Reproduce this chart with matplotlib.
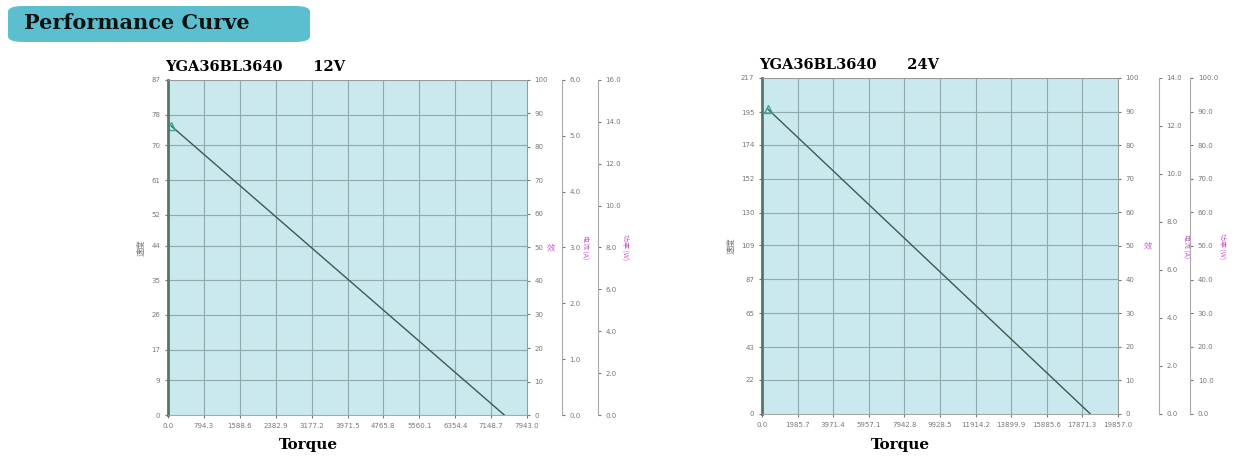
import matplotlib
matplotlib.use("Agg")
import matplotlib.pyplot as plt
from matplotlib.patches import FancyBboxPatch

# ---- 12V data ----
x12_ticks = [0.0, 794.3, 1588.6, 2382.9, 3177.2, 3971.5, 4765.8, 5560.1, 6354.4, 7148.7, 7943.0]
y12_ticks = [0, 9, 17, 26, 35, 44, 52, 61, 70, 78, 87]
speed12_t = [75, 7441]
speed12_v = [75, 0]
eff12_t = [0, 75, 262, 637, 1012, 1611, 2136, 2885, 3634, 4384, 5133, 5882, 6632, 7081, 7441]
eff12_v = [0, 16.5, 36, 58, 68, 72.7, 71.5, 67, 60, 50, 38, 26.5, 14.6, 6.6, 0]
pow12_t = [75, 637, 1386, 2136, 2885, 3709, 4757, 5508, 6257, 7006, 7441]
pow12_v = [0.75, 5.5, 10.3, 13.1, 14.5, 14.9, 13.9, 11.7, 8.2, 3.44, 0]
cur12_t = [75, 7441, 7441]
cur12_v = [0.4, 4.13, 0]

# ---- 24V data ----
x24_ticks = [0.0, 1985.7, 3971.4, 5957.1, 7942.8, 9928.5, 11914.2, 13899.9, 15885.6, 17871.3, 19857.0]
y24_ticks = [0, 22, 43, 65, 87, 109, 130, 152, 174, 195, 217]
speed24_t = [318, 18324]
speed24_v = [197, 0]
eff24_t = [20, 131, 318, 598, 972, 1720, 2842, 4151, 6021, 7890, 9760, 11630, 13500, 15369, 17239, 18324]
eff24_v = [0, 25.9, 42.7, 65.4, 79.2, 90.1, 93.9, 92.1, 85.2, 75.3, 63.4, 49.6, 36.8, 23.9, 10.1, 0]
pow24_t = [318, 2281, 4151, 6021, 7890, 9199, 10695, 12565, 14434, 16304, 17426, 18324]
pow24_v = [5.1, 35.8, 60.5, 80.2, 94.1, 98.2, 96.5, 87.2, 67.4, 41.7, 20.9, 0]
cur24_t = [318, 18324, 18324]
cur24_v = [0.69, 12.2, 0]

BG = "#c9e9ee"
GRID = "#8fa9ad"
SPEED_C = "#3d5a52"
POW_C = "#7d6b6b"
EFF_C = "#c44a5a"
CUR_C = "#4b68cf"
MK = "#3aa58a"
TK = "#777777"

fig = plt.figure(figsize=(12.4, 4.68), dpi=100)

box = FancyBboxPatch((8/1240, 1-42/468), 302/1240, 36/468,
                     boxstyle="round,pad=0,rounding_size=0.012",
                     transform=fig.transFigure, facecolor="#5cbfcf", edgecolor="none")
fig.patches.append(box)
fig.text(24/1240, 1-23/468, "Performance Curve", fontsize=15, fontweight="bold",
         family="DejaVu Serif", va="center", color="#111111")


def panel(rect, xt, yt, st, sv, et, ev, pt, pv, ct, cv, cmax, pmax, ptick_fmt,
          title, off1, off2, ctick_step, ptick_step):
    ax = fig.add_axes(rect)
    ax.set_facecolor(BG)
    ax.set_xlim(xt[0], xt[-1])
    ax.set_ylim(yt[0], yt[-1])
    ax.set_xticks(xt)
    ax.set_xticklabels([f"{v:.1f}" for v in xt])
    ax.set_yticks(yt)
    ax.grid(True, color=GRID, lw=0.8)
    ax.tick_params(labelsize=5, colors=TK, length=2)
    for s in ax.spines.values():
        s.set_color("#999999")
        s.set_linewidth(0.6)
    ax.spines["left"].set_color("#557766")
    ax.spines["left"].set_linewidth(2)
    ax.set_ylabel("速度", fontsize=6, color=TK, family=["Noto Sans CJK SC", "DejaVu Sans"])

    ax.plot(st, sv, color=SPEED_C, lw=1)
    ax.plot([st[0]], [sv[0]], marker="^", ms=6, mfc="none", mec=MK, mew=1)

    ae = ax.twinx()
    ae.set_ylim(0, 100)
    ae.set_yticks(range(0, 101, 10))
    ae.tick_params(labelsize=5, colors=TK, length=2)
    ae.plot(et, ev, color=EFF_C, lw=1.1)
    ae.plot(pt[:1], [pv[0] / pmax * 100], marker="^", ms=6, mfc="none", mec=MK, mew=1)
    ae.plot(et[1:2], ev[1:2], marker="^", ms=6, mfc="none", mec=MK, mew=1)
    for s in ae.spines.values():
        s.set_visible(False)
    ae.spines["right"].set_visible(True)
    ae.spines["right"].set_color("#aaaaaa")

    ac = ax.twinx()
    ac.spines["right"].set_position(("outward", off1))
    ac.set_ylim(0, cmax)
    ac.set_yticks([i * ctick_step for i in range(int(round(cmax / ctick_step)) + 1)])
    ac.set_yticklabels([f"{v:.1f}" for v in ac.get_yticks()])
    ac.tick_params(labelsize=5, colors=TK, length=2)
    for s in ["top", "left", "bottom"]:
        ac.spines[s].set_visible(False)
    ac.spines["right"].set_color("#aaaaaa")
    ac.plot(ct, cv, color=CUR_C, lw=1.1)
    ac.plot(ct[:1], cv[:1], marker="^", ms=6, mfc="none", mec=MK, mew=1)
    ac.set_ylabel("电流 (A)", fontsize=5, color="#d05ad0", rotation=-90, labelpad=6,
                  family=["Noto Sans CJK SC", "DejaVu Sans"])

    ap = ax.twinx()
    ap.spines["right"].set_position(("outward", off2))
    ap.set_ylim(0, pmax)
    ap.set_yticks([i * ptick_step for i in range(int(round(pmax / ptick_step)) + 1)])
    ap.set_yticklabels([f"{v:.1f}" for v in ap.get_yticks()])
    ap.tick_params(labelsize=5, colors=TK, length=2)
    for s in ["top", "left", "bottom"]:
        ap.spines[s].set_visible(False)
    ap.spines["right"].set_color("#aaaaaa")
    ap.plot(pt, pv, color=POW_C, lw=1)
    ap.set_ylabel("功率 (W)", fontsize=5, color="#d05ad0", rotation=-90, labelpad=6,
                  family=["Noto Sans CJK SC", "DejaVu Sans"])

    ax.text(rect[0] + 0 * rect[2], 0, "", transform=fig.transFigure)
    fig.text(rect[0] - 0.002, rect[1] + rect[3] + 0.012, title, fontsize=10.5,
             fontweight="bold", family="DejaVu Serif", ha="left", va="bottom")
    fig.text(rect[0] + rect[2] * 0.39, 0.04, "Torque", fontsize=11,
             fontweight="bold", family="DejaVu Serif", ha="center")
    fig.text(rect[0] + rect[2] + (off1 - 8) / 72 / 12.4, rect[1] + rect[3] * 0.5, "效",
             fontsize=6, color="#d05ad0", ha="center", va="center",
             family=["Noto Sans CJK SC", "DejaVu Sans"])
    ax.set_zorder(ae.get_zorder() + 3)
    ax.patch.set_visible(True)
    return ax


panel([0.1355, 0.1132, 0.2895, 0.716], x12_ticks, y12_ticks,
      speed12_t, speed12_v, eff12_t, eff12_v, pow12_t, pow12_v, cur12_t, cur12_v,
      6.0, 16.0, None, "YGA36BL3640      12V", 25, 51, 1.0, 2.0)
panel([0.6145, 0.1154, 0.287, 0.718], x24_ticks, y24_ticks,
      speed24_t, speed24_v, eff24_t, eff24_v, pow24_t, pow24_v, cur24_t, cur24_v,
      14.0, 100.0, None, "YGA36BL3640      24V", 29.5, 52, 2.0, 10.0)

fig.savefig("out.png", dpi=100)
